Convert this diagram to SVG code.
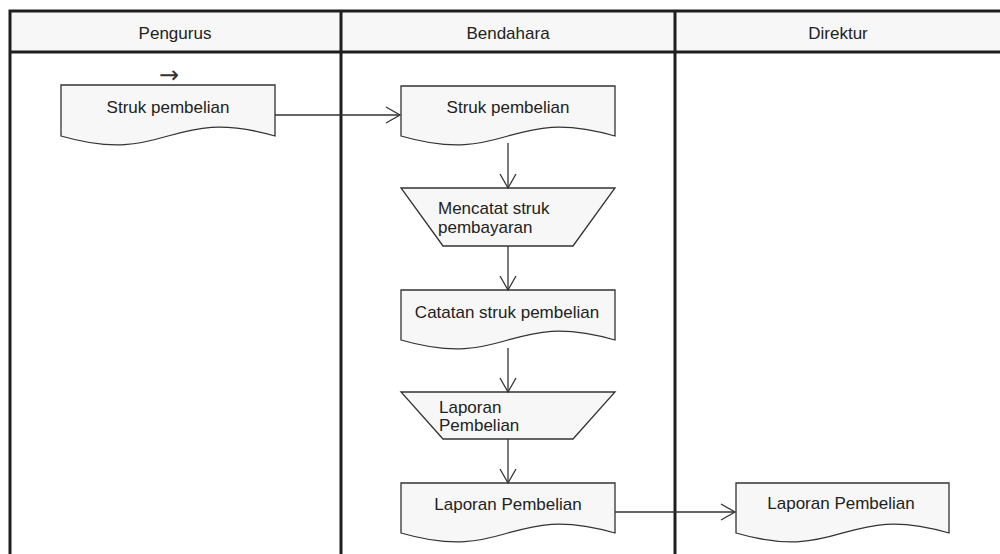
<svg xmlns="http://www.w3.org/2000/svg" width="1000" height="554" viewBox="0 0 1000 554">
<style>
.lane{fill:none;stroke:#1e1e1e;stroke-width:3}
.hdr{fill:#f7f7f7;stroke:none}
.node{fill:#f7f7f7;stroke:#333;stroke-width:1.3}
.t{font-family:"Liberation Sans",Arial,sans-serif;font-size:17px;fill:#222}
.c{text-anchor:middle}
.edge{fill:none;stroke:#333;stroke-width:1.3}
</style>
<defs>
<marker id="arr" viewBox="-16 -10 18 20" markerWidth="18" markerHeight="20" refX="0" refY="0" orient="auto" markerUnits="userSpaceOnUse">
<path d="M-14,-8 L0,0 L-14,8" fill="none" stroke="#333" stroke-width="1.3"/>
</marker>
</defs>
<rect x="0" y="0" width="1000" height="554" fill="#ffffff"/>
<g id="pool">
<rect class="hdr" x="10" y="11" width="990" height="41"/>
<path class="lane" d="M10,554 L10,11 L1002,11 M10,52 L1002,52 M341,11 L341,554 M675,11 L675,554"/>
<text class="t c" x="175" y="39">Pengurus</text>
<text class="t c" x="508" y="39">Bendahara</text>
<text class="t c" x="838" y="39">Direktur</text>
</g>
<g id="n1">
<text x="169" y="83" text-anchor="middle" style="font-family:'DejaVu Sans',sans-serif;font-size:24px;fill:#333">→</text>
<path class="node" d="M61,85 L275,85 L275,136 C168,167 168,105 61,136 Z" transform="matrix(-1 0 0 1 336 0)"/>
<text class="t c" x="168" y="113">Struk pembelian</text>
</g>
<g id="n2">
<path class="node" d="M401,86 L615,86 L615,136 C508,167 508,105 401,136 Z" transform="matrix(-1 0 0 1 1016 0)"/>
<text class="t c" x="508" y="113">Struk pembelian</text>
</g>
<g id="n3">
<path class="node" d="M401,188 L615,188 L573,246 L443,246 Z"/>
<text class="t" x="438" y="214">Mencatat struk</text>
<text class="t" x="438" y="233">pembayaran</text>
</g>
<g id="n4">
<path class="node" d="M401,290 L615,290 L615,340 C508,371 508,309 401,340 Z" transform="matrix(-1 0 0 1 1016 0)"/>
<text class="t c" x="507" y="318">Catatan struk pembelian</text>
</g>
<g id="n5">
<path class="node" d="M401,392 L615,392 L573,439 L443,439 Z"/>
<text class="t" x="439" y="413">Laporan</text>
<text class="t" x="439" y="431">Pembelian</text>
</g>
<g id="n6">
<path class="node" d="M401,483 L615,483 L615,533 C508,564 508,502 401,533 Z" transform="matrix(-1 0 0 1 1016 0)"/>
<text class="t c" x="508" y="510">Laporan Pembelian</text>
</g>
<g id="n7">
<path class="node" d="M736,483 L949,483 L949,533 C842,564 842,502 736,533 Z" transform="matrix(-1 0 0 1 1685 0)"/>
<text class="t c" x="841" y="509">Laporan Pembelian</text>
</g>
<g id="connectors">
<path class="edge" d="M275,115 L400,115" marker-end="url(#arr)"/>
<path class="edge" d="M508,143 L508,188" marker-end="url(#arr)"/>
<path class="edge" d="M508,246 L508,290" marker-end="url(#arr)"/>
<path class="edge" d="M508,348 L508,392" marker-end="url(#arr)"/>
<path class="edge" d="M508,439 L508,483" marker-end="url(#arr)"/>
<path class="edge" d="M615,512 L735,512" marker-end="url(#arr)"/>
</g>
</svg>
